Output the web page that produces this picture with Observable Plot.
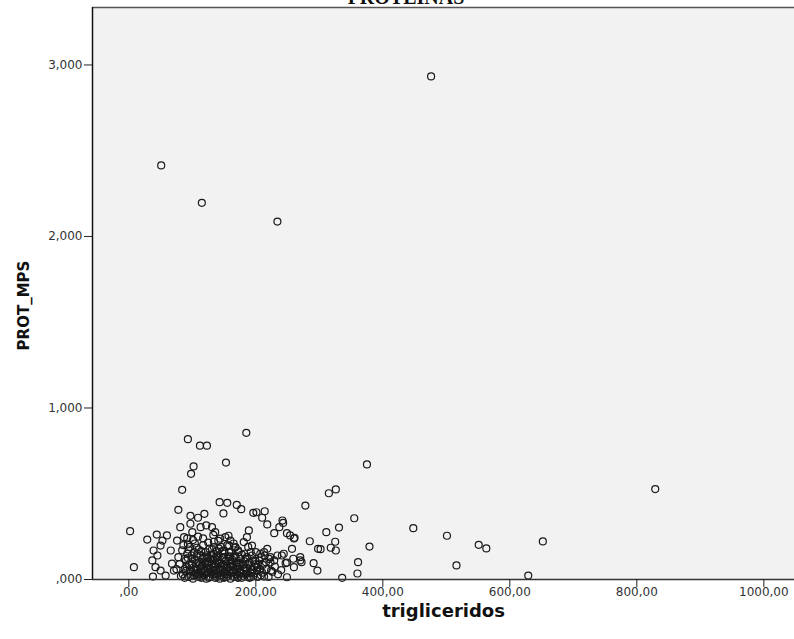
<!DOCTYPE html>
<html><head><meta charset="utf-8">
<script src="https://cdn.jsdelivr.net/npm/d3@7"></script>
<script src="https://cdn.jsdelivr.net/npm/@observablehq/plot@0.6"></script>
<style>
html,body{margin:0;padding:0;background:#fff;overflow:hidden}
#wrap{position:relative;width:794px;height:639px;overflow:hidden}
#title{position:absolute;left:0;top:-13px;width:794px;padding-left:18px;box-sizing:border-box;text-align:center;font:bold 20px "Liberation Serif",serif;line-height:20px;color:#111;z-index:2}
</style></head><body><div id="wrap"><div id="title">PROTEINAS</div></div>
<script>
// trigliceridos (x) and PROT_MPS (y)
const trigliceridos = [
  51,115,234,476,
  93,112,123,185,153,102,98,84,78,
  143,155,149,170,177,196,201,214,278,
  97,109,119,81,210,218,242,237,229,249,261,285,298,291,297,270,249,244,
  29,38,2,8,
  375,315,326,355,331,311,325,318,326,302,379,361,360,336,
  260,257,259,272,260,249,243,241,247,254,
  448,501,516,551,563,629,652,829,
  270,224,213,234,229,
  189,186,194,181,173,168,160,152,144,136,131,134,139,150,158,165,176,186,196,207,218,223,202,181,160,144,134,192,171,150,
  97,100,113,122,44,53,60,50,39,45,37,42,66,68,76,87,71,58,50,
  85,88,90,92,94,95,96,98,100,101,102,103,104,105,106,107,108,109,110,111,112,113,114,115,116,117,118,119,120,121,
  122,123,124,125,126,127,128,129,130,131,132,133,134,135,136,137,138,139,140,141,142,143,144,145,146,147,148,149,150,151,
  152,153,154,155,156,157,158,159,160,161,162,163,164,165,166,167,168,169,170,172,174,176,178,180,182,184,186,188,190,192,
  194,196,198,200,202,205,208,211,214,217,220,223,226,230,235,240,
  75,78,80,82,84,86,88,90,92,94,
  97,99,103,107,111,115,119,123,127,131,135,139,143,147,151,155,159,163,167,171,175,179,183,187,191,195,199,204,209,213,216,221,
  88,91,93,96,99,102,104,106,108,110,112,114,116,118,120,122,124,126,128,130,132,134,136,138,140,142,144,146,148,150,
  152,154,156,158,160,162,164,166,168,170,172,174,176,178,180,182,184,186,188,190,192,194,197,200,203,206,210,
  93,101,109,117,125,133,141,157
];
const protMps = [
  2.414,2.196,2.087,2.933,
  .818,.780,.780,.855,.682,.659,.616,.523,.406,
  .451,.447,.385,.435,.410,.389,.392,.398,.431,
  .371,.360,.383,.305,.360,.321,.344,.305,.270,.270,.243,.223,.179,.095,.052,.111,.099,.150,
  .233,.017,.282,.072,
  .671,.503,.525,.357,.303,.276,.220,.185,.169,.177,.192,.101,.035,.010,
  .239,.179,.121,.101,.072,.013,.330,.140,.095,.257,
  .299,.255,.082,.202,.181,.023,.222,.527,
  .130,.052,.017,.140,.111,
  .286,.247,.198,.218,.160,.189,.227,.247,.238,.276,.305,.189,.130,.169,.198,.130,.092,.130,.111,.150,.179,.130,.072,.052,.072,.052,.052,.013,.013,.013,
  .325,.276,.305,.315,.262,.227,.257,.198,.169,.140,.111,.072,.169,.092,.227,.247,.052,.023,.052,
  .030,.060,.110,.150,.015,.085,.190,.045,.120,.005,.070,.160,.210,.035,.095,.135,.020,.060,.175,.100,.040,.140,.010,.080,.120,.200,.055,.025,.095,.160,
  .005,.070,.130,.040,.105,.180,.015,.060,.145,.090,.030,.115,.220,.075,.010,.050,.165,.100,.035,.140,.065,.005,.095,.190,.025,.125,.055,.085,.010,.150,
  .040,.110,.070,.200,.020,.130,.050,.090,.005,.160,.035,.115,.075,.210,.015,.140,.060,.100,.030,.170,.045,.120,.010,.085,.150,.030,.065,.190,.100,.040,
  .140,.020,.075,.160,.050,.110,.025,.085,.140,.060,.015,.100,.045,.075,.030,.055,
  .060,.130,.090,.020,.170,.200,.120,.050,.240,.175,
  .020,.140,.055,.185,.015,.045,.130,.100,.065,.175,.125,.015,.060,.165,.080,.030,.135,.055,.185,.095,.060,.035,.105,.015,.070,.055,.110,.085,.130,.160,.100,.120,
  .010,.075,.125,.055,.090,.025,.115,.060,.150,.030,.085,.165,.020,.100,.050,.140,.085,.010,.120,.040,.070,.150,.095,.030,.115,.180,.020,.080,.130,.045,
  .105,.015,.070,.160,.110,.080,.020,.050,.125,.075,.010,.095,.040,.145,.020,.070,.120,.035,.090,.010,.160,.060,.035,.090,.015,.060,.040,
  .205,.230,.250,.240,.215,.260,.225,.255
];
const xTicks = [0, 200, 400, 600, 800, 1000];
const yTicks = [0, 1, 2, 3];
const xTitle = "trigliceridos";
const yTitle = "PROT_MPS";

const data = trigliceridos.map((x, i) => ({x, y: protMps[i]}));
const fmtX = v => v.toFixed(2).replace(".", ",").replace(/^0,/, ",");
const fmtY = v => v.toFixed(3).replace(".", ",").replace(/^0,/, ",");
const xDom = [-57.2, 1048.3];
const yDom = [0, 3.335];

const chart = Plot.plot({
  width: 794, height: 639,
  marginLeft: 92, marginRight: 0, marginTop: 7, marginBottom: 60,
  x: {domain: xDom},
  y: {domain: yDom},
  style: {fontFamily: "DejaVu Sans, sans-serif", fontSize: "12px", color: "#222", background: "transparent"},
  marks: [
    Plot.frame({fill: "#f2f2f2", stroke: null}),
    Plot.ruleY([yDom[1]], {stroke: "#555", strokeWidth: 1.5}),
    Plot.dot(data, {x: "x", y: "y", r: 3.5, stroke: "#1a1a1a", strokeWidth: 1.2, fill: "none"}),
    Plot.ruleX([xDom[0]], {stroke: "#111", strokeWidth: 1.5}),
    Plot.ruleY([0], {stroke: "#333", strokeWidth: 1.5}),
    Plot.axisX({ticks: xTicks, tickFormat: fmtX, tickSize: 8, tickPadding: 0, label: null, fill: "#333"}),
    Plot.axisY({ticks: yTicks, tickFormat: fmtY, tickSize: 8, tickPadding: 2, label: null, fill: "#333"}),
    Plot.text([xTitle], {frameAnchor: "bottom", dy: 37, fontSize: 18, fontWeight: "bold", fill: "#111"}),
    Plot.text([yTitle], {frameAnchor: "left", dx: -68, dy: 12, rotate: -90, textAnchor: "middle", fontSize: 15, fontWeight: "bold", fill: "#111"})
  ]
});
document.getElementById("wrap").appendChild(chart);
</script>
</body></html>
